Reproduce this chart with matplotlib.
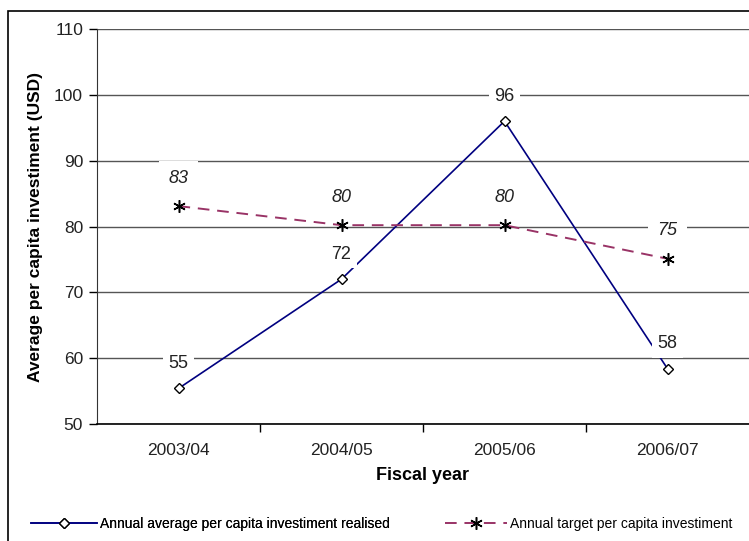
import matplotlib
matplotlib.use("Agg")
import matplotlib.pyplot as plt
from matplotlib.patches import Rectangle

plt.rcParams["font.family"] = ["Liberation Sans Narrow", "Liberation Sans", "DejaVu Sans"]

years = ["2003/04", "2004/05", "2005/06", "2006/07"]
realised = [55.4, 72.0, 96.0, 58.4]
realised_labels = ["55", "72", "96", "58"]
target = [83.1, 80.2, 80.2, 75.1]
target_labels = ["83", "80", "80", "75"]

W, H = 749, 541
fig = plt.figure(figsize=(W / 100, H / 100), dpi=100)
ax = fig.add_axes([97 / W, 1 - 424 / H, 1 - 97 / W, (424 - 29) / H])

# outer chart frame
fig.patches.append(Rectangle((8 / W, -0.05), 1.1, 1 - 11 / H + 0.05, transform=fig.transFigure,
                             fill=False, edgecolor="black", linewidth=1.2))

x = list(range(len(years)))
l1, = ax.plot(x, realised, color="#000080", linewidth=1.2, marker="D", markersize=5.5,
              markerfacecolor="white", markeredgecolor="black", markeredgewidth=1.0,
              label="Annual average per capita investiment realised", zorder=3)
l2, = ax.plot(x, target, color="#993366", linewidth=1.4, linestyle=(0, (6, 4)), marker=(6, 2, 0),
              markersize=9, markeredgecolor="black", markeredgewidth=1.1,
              label="Annual target per capita investiment", zorder=3)

for xi, v, lab in zip(x, realised, realised_labels):
    ax.annotate(lab, (xi, v), xytext=(0, 18), textcoords="offset points", ha="center",
                va="center", fontsize=13, color="#222222", zorder=4,
                bbox=dict(boxstyle="square,pad=0.3", facecolor="white", edgecolor="none"))
for xi, v, lab in zip(x, target, target_labels):
    ax.annotate(lab, (xi, v), xytext=(0, 20), textcoords="offset points", ha="center",
                va="center", fontsize=13, style="italic", color="#222222", zorder=4,
                bbox=dict(boxstyle="square,pad=0.5", facecolor="white", edgecolor="none"))

ax.set_xlim(-0.5, 3.5)
ax.set_ylim(50, 110)
ax.set_yticks(range(50, 111, 10))
ax.set_xticks(x)
ax.set_xticklabels(years)
ax.set_xticks([0.5, 1.5, 2.5], minor=True)
ax.tick_params(axis="x", which="major", length=0, pad=14, labelsize=12.5, labelcolor="#222222")
ax.tick_params(axis="x", which="minor", length=6, width=1, direction="out")
ax.tick_params(axis="y", length=6, width=1, labelsize=12.5, labelcolor="#222222", pad=4)

ax.grid(axis="y", color="#555555", linewidth=1)
ax.set_axisbelow(True)
for s in ["top", "right"]:
    ax.spines[s].set_visible(False)
ax.spines["left"].set_color("#333333")
ax.spines["bottom"].set_color("black")
ax.spines["bottom"].set_linewidth(1.2)

ax.set_ylabel("Average per capita investiment (USD)", fontsize=12.5, fontweight="bold", labelpad=8)
ax.set_xlabel("Fiscal year", fontsize=13, fontweight="bold", labelpad=6)

leg_y = 1 - 524 / H
leg1 = fig.legend(handles=[l1], loc="center left", bbox_to_anchor=(18 / W, leg_y), frameon=False,
                  fontsize=10, handlelength=4.8, handletextpad=0.2)
leg2 = fig.legend(handles=[l2], loc="center left", bbox_to_anchor=(432 / W, leg_y), frameon=False,
                  fontsize=10, handlelength=4.5, handletextpad=0.2)
fig.add_artist(leg1)

fig.savefig("out.png", dpi=100)
